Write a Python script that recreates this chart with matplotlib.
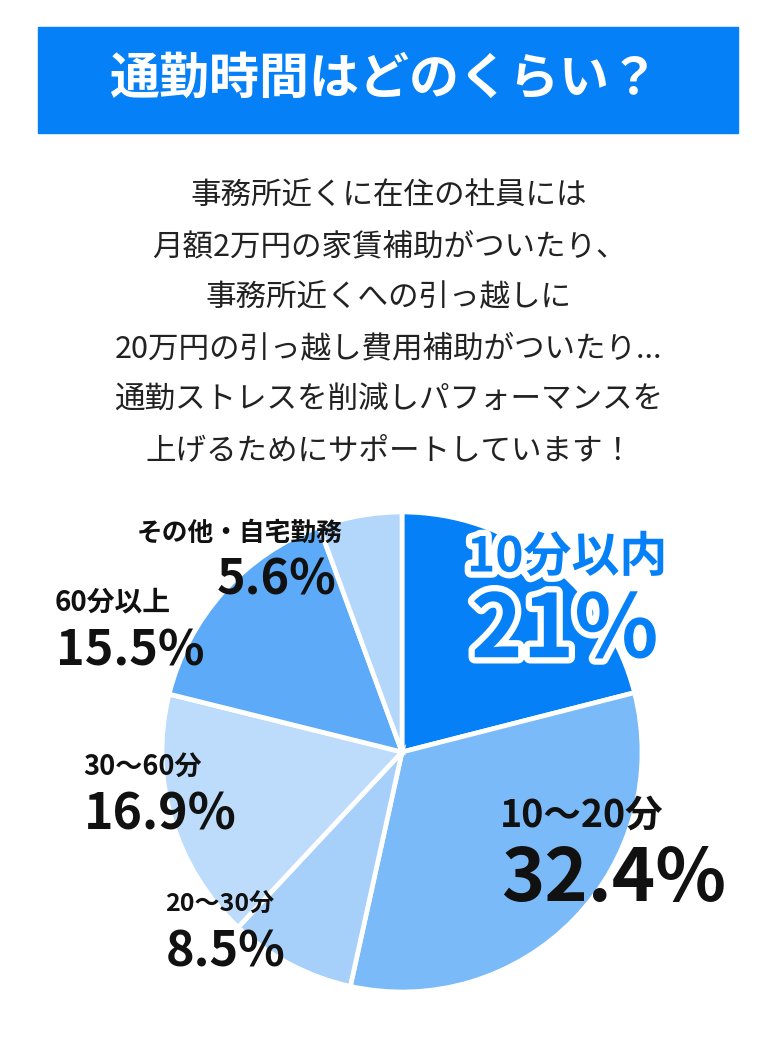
import matplotlib

matplotlib.use("Agg")
import matplotlib.pyplot as plt
import matplotlib.patheffects as pe
from matplotlib.patches import Rectangle

plt.rcParams["font.family"] = ["Noto Sans CJK JP", "DejaVu Sans"]

W, H = 778, 1040
BLUE = "#0580f7"
INK = "#111111"

title = "通勤時間はどのくらい？"
body_lines = [
    "事務所近くに在住の社員には",
    "月額2万円の家賃補助がついたり、",
    "事務所近くへの引っ越しに",
    "20万円の引っ越し費用補助がついたり...",
    "通勤ストレスを削減しパフォーマンスを",
    "上げるためにサポートしています！",
]

categories = ["10分以内", "10〜20分", "20〜30分", "30〜60分", "60分以上", "その他・自宅勤務"]
shares = [21.0, 32.4, 8.5, 16.9, 15.5, 5.6]
share_labels = ["21%", "32.4%", "8.5%", "16.9%", "15.5%", "5.6%"]
colors = [BLUE, "#7bbaf8", "#a6cffa", "#bddcfb", "#5caaf8", "#b3d6fb"]

# label layout in pixel coords (x, y of category line, y of value line, sizes, align)
label_pos = [
    (467, 557, 632, 34.5, 63, "left"),
    (500, 815, 880, 27, 53, "left"),
    (165, 905, 952, 18, 35, "left"),
    (83, 767, 815, 19.5, 36, "left"),
    (55, 602, 651, 20, 35, "left"),
    (240, 533, 580, 18.5, 35, "center"),
]


def py(y):
    return H - y


fig = plt.figure(figsize=(W / 100, H / 100), dpi=100)
ax = fig.add_axes([0, 0, 1, 1])

# ---- pie -----------------------------------------------------------------
ax.pie(shares, colors=colors, center=(402, py(752)), radius=240,
       startangle=90, counterclock=False,
       wedgeprops=dict(edgecolor="white", linewidth=3.4))
ax.set_xlim(0, W)
ax.set_ylim(0, H)
ax.set_aspect("equal")
ax.axis("off")

# ---- title banner ----------------------------------------------------------
ax.add_patch(Rectangle((38, py(133)), 700, 106, color=BLUE, zorder=0))
ax.text(384, py(80), title, color="white", fontsize=36, fontweight="bold",
        ha="center", va="center")

# ---- body text -------------------------------------------------------------
for i, line in enumerate(body_lines):
    ax.text(389, py(196 + i * 51), line, color="#222222", fontsize=22,
            ha="center", va="center")

# ---- slice labels ----------------------------------------------------------
for i, (cat, lab) in enumerate(zip(categories, share_labels)):
    x, y1, y2, s1, s2, ha = label_pos[i]
    if i == 0:
        fx = [pe.withStroke(linewidth=9, foreground="white")]
        ax.text(x, py(y1), cat, color=BLUE, fontsize=s1, fontweight="bold",
                ha=ha, va="center", path_effects=fx)
        ax.text(x + 4, py(y2), lab, color=BLUE, fontsize=s2, fontweight="bold",
                ha=ha, va="center", path_effects=fx)
    else:
        ax.text(x, py(y1), cat, color=INK, fontsize=s1, fontweight="bold",
                ha=ha, va="center")
        x2 = x + 37 if ha == "center" else x + 1
        ax.text(x2, py(y2), lab, color=INK, fontsize=s2, fontweight="bold",
                ha=ha, va="center")

fig.savefig("out.png", dpi=100)
